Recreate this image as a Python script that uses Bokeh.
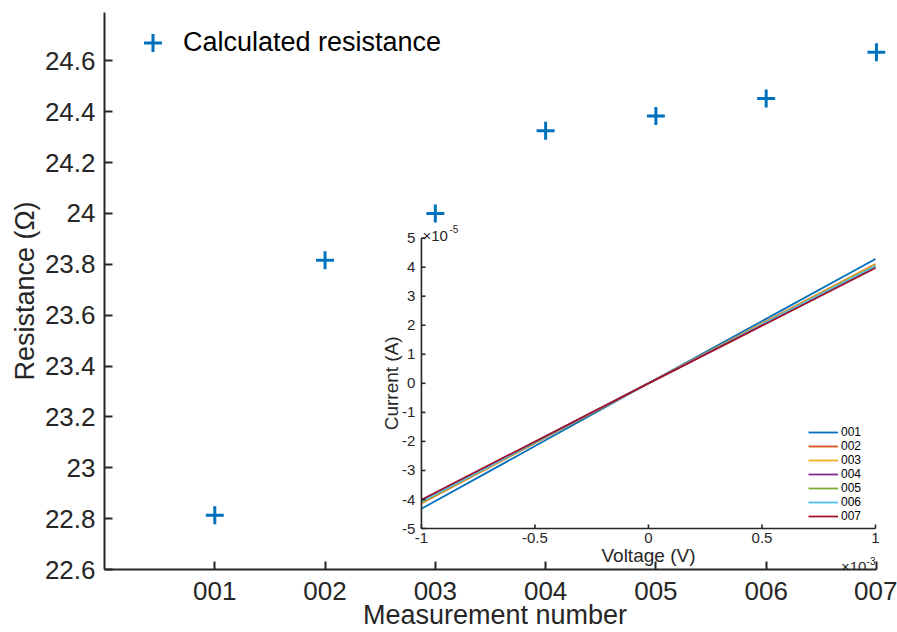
import math
from bokeh.plotting import figure
from bokeh.models import Range1d, FixedTicker, Legend, LegendItem
from bokeh.core.properties import value
from bokeh.embed import file_html
from bokeh.resources import INLINE

# ---------------- data ----------------
measurements = [1, 2, 3, 4, 5, 6, 7]
measurement_labels = ["001", "002", "003", "004", "005", "006", "007"]
resistance = [22.813, 23.816, 24.0, 24.325, 24.383, 24.452, 24.634]

r_ticks = [22.6, 22.8, 23.0, 23.2, 23.4, 23.6, 23.8, 24.0, 24.2, 24.4, 24.6]
r_tick_labels = ["22.6", "22.8", "23", "23.2", "23.4", "23.6", "23.8", "24", "24.2", "24.4", "24.6"]

voltage = [-1e-3, 0.0, 1e-3]
current = {
    "001": [-4.32e-5, 0.0, 4.28e-5],
    "002": [-4.13e-5, 0.0, 4.11e-5],
    "003": [-4.10e-5, 0.0, 4.09e-5],
    "004": [-4.03e-5, 0.0, 4.00e-5],
    "005": [-4.08e-5, 0.0, 4.05e-5],
    "006": [-4.07e-5, 0.0, 4.04e-5],
    "007": [-4.01e-5, 0.0, 3.97e-5],
}
line_colors = ["#0072BD", "#D95319", "#EDB120", "#7E2F8E", "#77AC30", "#4DBEEE", "#A2142F"]

iv_x_range = (-1e-3, 1e-3)
iv_y_range = (-5e-5, 5e-5)
iv_x_ticks = [-1e-3, -0.5e-3, 0.0, 0.5e-3, 1e-3]
iv_x_tick_labels = ["-1", "-0.5", "0", "0.5", "1"]
iv_y_ticks = [-5e-5, -4e-5, -3e-5, -2e-5, -1e-5, 0.0, 1e-5, 2e-5, 3e-5, 4e-5, 5e-5]
iv_y_tick_labels = ["-5", "-4", "-3", "-2", "-1", "0", "1", "2", "3", "4", "5"]

FONT = "Liberation Sans"
INK = "#262626"

# ---------------- main figure ----------------
p = figure(width=897, height=632, x_range=Range1d(0, 7.082), y_range=Range1d(22.6, 24.79),
           output_backend="svg", toolbar_location=None,
           min_border_left=104, min_border_right=12, min_border_top=12, min_border_bottom=0)
p.outline_line_color = None
p.grid.visible = False
p.background_fill_color = "white"

main_r = p.scatter(measurements, resistance, marker="cross", size=18,
                   line_color="#0072BD", line_width=3)

p.xaxis.ticker = FixedTicker(ticks=measurements)
p.xaxis.major_label_overrides = dict(zip(measurements, measurement_labels))
p.xaxis.bounds = (0, 7)
p.yaxis.ticker = FixedTicker(ticks=r_ticks)
p.yaxis.major_label_overrides = dict(zip(r_ticks, r_tick_labels))
p.xaxis.axis_label = "Measurement number"
p.yaxis.axis_label = "Resistance (Ω)"

for ax in (p.xaxis[0], p.yaxis[0]):
    ax.axis_line_color = INK
    ax.axis_line_width = 2
    ax.major_tick_line_color = INK
    ax.major_tick_line_width = 2
    ax.major_tick_in = 8
    ax.major_tick_out = 0
    ax.minor_tick_in = 0
    ax.minor_tick_out = 0
    ax.major_label_text_font = FONT
    ax.major_label_text_font_size = "26px"
    ax.major_label_text_color = INK
    ax.axis_label_text_font = FONT
    ax.axis_label_text_font_size = "27px"
    ax.axis_label_text_font_style = "normal"
    ax.axis_label_text_color = INK

p.xaxis.major_label_standoff = 12
p.xaxis.axis_label_standoff = -3
p.yaxis.major_label_standoff = 9
p.yaxis.axis_label_standoff = 2

main_legend = Legend(items=[LegendItem(label="Calculated resistance", renderers=[main_r])],
                     location=(26, 504), glyph_width=45, glyph_height=45, label_standoff=8,
                     label_text_font=FONT, label_text_font_size="27px", label_text_color="black",
                     padding=0, margin=0, border_line_color=None, background_fill_alpha=0)
p.add_layout(main_legend, "center")

# ---------------- inset (sub-coordinates) ----------------
sub = p.subplot(x_source=Range1d(*iv_x_range), y_source=Range1d(*iv_y_range),
                x_target=Range1d(2.874, 6.991), y_target=Range1d(22.761, 23.903))

x0, x1 = iv_x_range
y0, y1 = iv_y_range

items = []
for (name, cur), col in zip(current.items(), line_colors):
    r = sub.line(voltage, cur, line_color=col, line_width=1.8)
    items.append(LegendItem(label=name, renderers=[r]))

# inset axes
sub.segment(x0=[x0, x0], y0=[y0, y0], x1=[x0, x1], y1=[y1, y0], line_color=INK, line_width=1.6)
sub.ray(x=[x0] * len(iv_y_ticks), y=iv_y_ticks, length=4, length_units="screen", angle=0,
        line_color=INK, line_width=1.6)
sub.ray(x=iv_x_ticks, y=[y0] * len(iv_x_ticks), length=4, length_units="screen", angle=math.pi / 2,
        line_color=INK, line_width=1.6)

tick_style = dict(text_font=value(FONT), text_font_size="15px", text_color=INK)
sub.text(x=[x0] * len(iv_y_ticks), y=iv_y_ticks, text=iv_y_tick_labels, x_offset=-6,
         text_align="right", text_baseline="middle", **tick_style)
sub.text(x=iv_x_ticks, y=[y0] * len(iv_x_ticks), text=iv_x_tick_labels, y_offset=4,
         text_align="center", text_baseline="top", **tick_style)

# exponent labels
sub.text(x=[x0], y=[y1], text=["×10"], x_offset=1, y_offset=-3, text_align="left",
         text_baseline="alphabetic", **tick_style)
sub.text(x=[x0], y=[y1], text=["-5"], x_offset=28, y_offset=-9, text_align="left",
         text_baseline="alphabetic", text_font=value(FONT), text_font_size="10px", text_color=INK)
sub.text(x=[x1], y=[y0], text=["×10"], x_offset=-9, y_offset=38, text_align="right",
         text_baseline="alphabetic", **tick_style)
sub.text(x=[x1], y=[y0], text=["-3"], x_offset=0, y_offset=32, text_align="right",
         text_baseline="alphabetic", text_font=value(FONT), text_font_size="10px", text_color=INK)

# inset axis labels
sub.text(x=[x0], y=[0.0], text=["Current (A)"], angle=math.pi / 2, x_offset=-30,
         text_align="center", text_baseline="middle",
         text_font=value(FONT), text_font_size="19px", text_color=INK)
sub.text(x=[0.0], y=[y0], text=["Voltage (V)"], y_offset=27,
         text_align="center", text_baseline="middle",
         text_font=value(FONT), text_font_size="19px", text_color=INK)

inset_legend = Legend(items=items, location=(704, 46), glyph_width=30, glyph_height=12,
                      label_height=12, label_standoff=3, spacing=0,
                      label_text_font=FONT, label_text_font_size="12px",
                      label_text_line_height=1.0, label_text_color="black",
                      padding=0, margin=0, border_line_color=None, background_fill_alpha=0)
p.add_layout(inset_legend, "center")

open("out.html", "w").write(file_html(p, INLINE))
